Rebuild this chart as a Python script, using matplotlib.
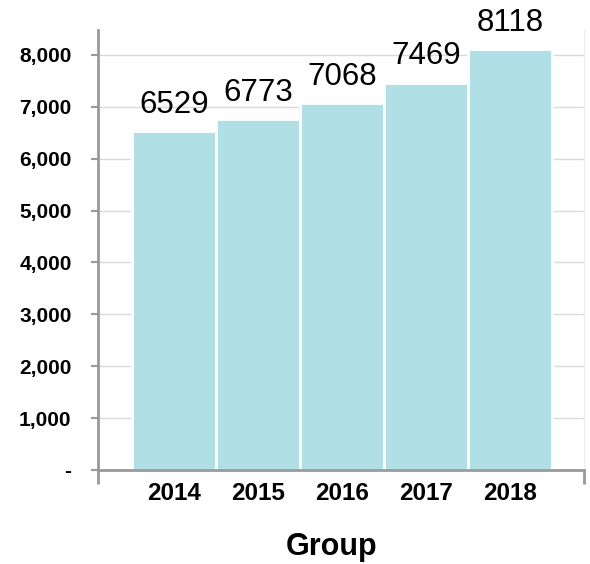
import numpy as np
import matplotlib as mpl
mpl.use('Agg')
import matplotlib.pyplot as plt
from matplotlib.ticker import FuncFormatter

years = ['2014', '2015', '2016', '2017', '2018']
values = [6529, 6773, 7068, 7469, 8118]

plt.rcParams['font.family'] = ['Liberation Sans', 'DejaVu Sans']

fig = plt.figure(figsize=(5.9, 5.64), dpi=100)
ax = fig.add_axes([0.166, 0.1667, 0.824, 0.78])

x = np.arange(len(years))
bars = ax.bar(x, values, width=1.0, color='powderblue', edgecolor='white',
              linewidth=2, zorder=2)

for xi, v in zip(x, values):
    ax.annotate(str(v), (xi, v), xytext=(0, 13), textcoords='offset points',
                ha='center', va='baseline', fontsize=22.5, color='black')

ax.set_xlim(-0.905, 4.88)
ax.set_ylim(0, 8480)
ax.set_yticks(np.arange(0, 8001, 1000))
ax.yaxis.set_major_formatter(FuncFormatter(lambda v, p: '-' if v == 0 else '{:,.0f}'.format(v)))
ax.grid(axis='y', color='#d9d9d9', linewidth=1, zorder=0)

ax.set_xticks(x)
ax.set_xticklabels(years, fontsize=17.5, fontweight='bold')
ax.set_xticks([-0.905, 4.88], minor=True)
ax.tick_params(axis='x', which='major', length=0, pad=9)
ax.tick_params(axis='x', which='minor', length=10, width=2, color='#999999', direction='out')
ax.tick_params(axis='y', length=5, width=1.5, color='#999999', pad=14)
for lbl in ax.get_yticklabels():
    lbl.set_fontsize(15)
    lbl.set_fontweight('bold')

ax.spines['top'].set_visible(False)
ax.spines['left'].set_color('#999999')
ax.spines['left'].set_linewidth(2)
ax.spines['bottom'].set_color('#999999')
ax.spines['bottom'].set_linewidth(2)
ax.spines['right'].set_color('#eeeeee')
ax.spines['right'].set_linewidth(1)

ax.set_xlabel('Group', fontsize=22, fontweight='bold', va='top')
ax.xaxis.set_label_coords(0.481, -0.141)

fig.savefig('out.png', dpi=100, facecolor='white')
